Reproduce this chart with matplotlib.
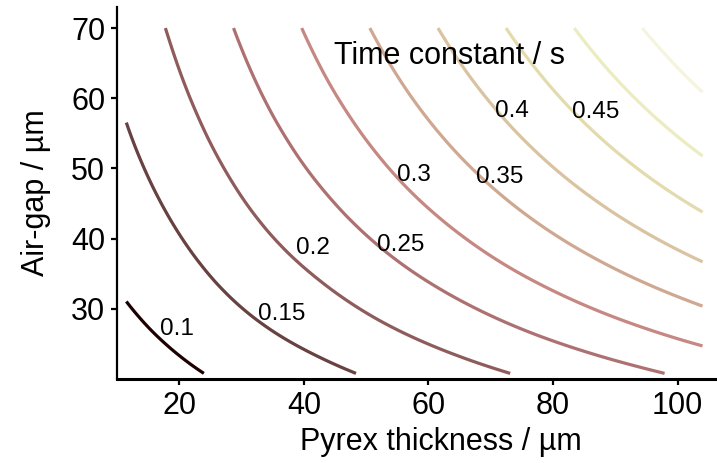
import numpy as np
import matplotlib
matplotlib.use("Agg")
import matplotlib.pyplot as plt
import matplotlib.tri as mtri
from matplotlib.colors import Normalize

plt.rcParams["font.family"] = ["Liberation Sans", "DejaVu Sans"]

# Pyrex thickness (um) and air gap (um) sampling of the time-constant map
thickness = [11.5, 20, 30, 40, 50, 60, 70, 80, 90, 100, 104]
air_gap = [20.8, 25, 30, 35, 40, 45, 50, 55, 60, 65, 70]

# Time constant (s); one row per air gap, one column per thickness
tau = [
    [0.0734, 0.0914, 0.1130, 0.1332, 0.1533, 0.1735, 0.1937, 0.2139, 0.2340, 0.2542, 0.2623],
    [0.0849, 0.1055, 0.1304, 0.1537, 0.1770, 0.2002, 0.2235, 0.2468, 0.2701, 0.2934, 0.3027],
    [0.0975, 0.1210, 0.1494, 0.1761, 0.2028, 0.2294, 0.2561, 0.2828, 0.3095, 0.3361, 0.3468],
    [0.1091, 0.1352, 0.1668, 0.1965, 0.2263, 0.2561, 0.2859, 0.3156, 0.3454, 0.3752, 0.3871],
    [0.1198, 0.1484, 0.1827, 0.2153, 0.2479, 0.2805, 0.3131, 0.3458, 0.3784, 0.4110, 0.4240],
    [0.1296, 0.1606, 0.1973, 0.2325, 0.2678, 0.3030, 0.3382, 0.3735, 0.4087, 0.4439, 0.4580],
    [0.1388, 0.1720, 0.2108, 0.2485, 0.2861, 0.3238, 0.3614, 0.3991, 0.4367, 0.4744, 0.4894],
    [0.1475, 0.1826, 0.2234, 0.2632, 0.3031, 0.3430, 0.3829, 0.4228, 0.4627, 0.5025, 0.5185],
    [0.1555, 0.1925, 0.2350, 0.2770, 0.3189, 0.3609, 0.4028, 0.4448, 0.4868, 0.5287, 0.5455],
    [0.1635, 0.2017, 0.2458, 0.2897, 0.3336, 0.3775, 0.4214, 0.4653, 0.5092, 0.5531, 0.5707],
    [0.1714, 0.2102, 0.2559, 0.3016, 0.3473, 0.3930, 0.4388, 0.4845, 0.5302, 0.5759, 0.5941],
]

levels = [0.1, 0.15, 0.2, 0.25, 0.3, 0.35, 0.4, 0.45, 0.5, 0.55]
labelled_levels = [0.1, 0.15, 0.2, 0.25, 0.3, 0.35, 0.4, 0.45]
label_spots = [(19.7, 27.1), (36.5, 29.3), (41.5, 38.6), (55.6, 39.1),
               (57.7, 49.0), (71.4, 48.8), (73.4, 58.2), (86.9, 58.0)]

x_ticks = [20, 40, 60, 80, 100]
y_ticks = [30, 40, 50, 60, 70]

fig = plt.figure(figsize=(7.17, 4.63), dpi=100)
ax = fig.add_axes([117 / 717, 1 - 379 / 463, (715 - 117) / 717, (379 - 7) / 463])

# Triangulate the sampled grid and refine it so the iso-lines come out smooth
X, Y = np.meshgrid(thickness, air_gap)
nx, ny = len(thickness), len(air_gap)
triangles = []
for j in range(ny - 1):
    for i in range(nx - 1):
        a = j * nx + i
        triangles.append([a, a + 1, a + nx + 1])
        triangles.append([a, a + nx + 1, a + nx])
grid_tri = mtri.Triangulation(X.ravel(), Y.ravel(), triangles)
refiner = mtri.UniformTriRefiner(grid_tri)
fine_tri, fine_tau = refiner.refine_field(np.array(tau).ravel(), subdiv=3)

cs = ax.tricontour(fine_tri, fine_tau, levels=levels, cmap="pink",
                   norm=Normalize(vmin=0.1, vmax=0.61), linewidths=2.3)

texts = ax.clabel(cs, levels=labelled_levels, inline=False, fmt="%g",
                  fontsize=17.5, colors="black", manual=label_spots)
for t in texts:
    t.set_rotation(0)
    val = float(t.get_text())
    idx = min(range(len(labelled_levels)), key=lambda i: abs(labelled_levels[i] - val))
    t.set_position(label_spots[idx])
    t.set_ha("center")
    t.set_va("center")

ax.text(63.3, 64.9, "Time constant / s", fontsize=22, ha="center", va="baseline")

ax.set_xlim(10, 106)
ax.set_ylim(20, 73)
ax.set_xticks(x_ticks)
ax.set_yticks(y_ticks)

for side in ("top", "right"):
    ax.spines[side].set_visible(False)
ax.spines["bottom"].set_linewidth(2.2)
ax.spines["left"].set_linewidth(1.6)
ax.tick_params(axis="both", direction="out", length=4.5, width=1.6,
               labelsize=22, pad=4)

ax.set_xlabel("Pyrex thickness / µm", fontsize=22)
ax.set_ylabel("Air-gap / µm", fontsize=22)
ax.xaxis.set_label_coords(0.542, -0.13)
ax.yaxis.set_label_coords(-0.11, 0.5)

fig.savefig("out.png", dpi=100)
